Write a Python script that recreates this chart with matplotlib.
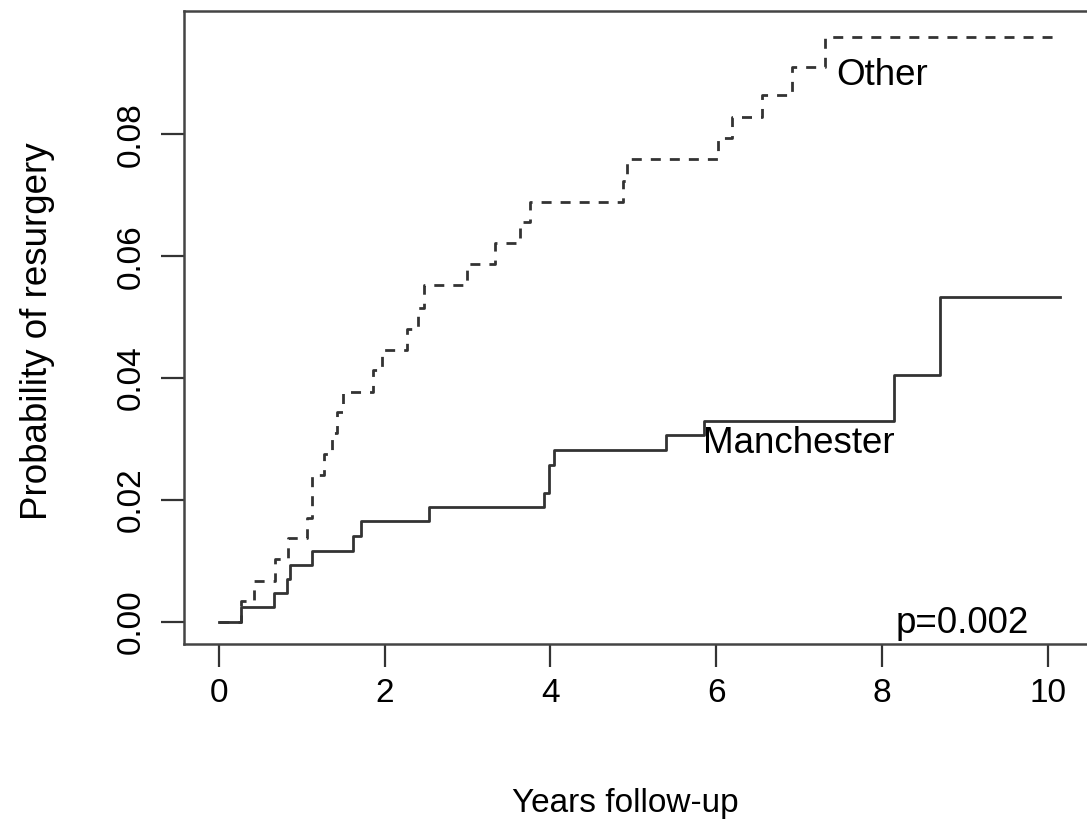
import matplotlib
matplotlib.use("Agg")
import matplotlib.pyplot as plt

# cumulative incidence of resurgery
man_t = [0, 0.27, 0.66, 0.82, 0.86, 1.12, 1.62, 1.72, 2.54, 3.92, 3.98, 4.04,
         5.40, 5.85, 8.15, 8.70, 10.15]
man_p = [0, 0.0024, 0.0047, 0.0070, 0.0094, 0.0117, 0.0141, 0.0165, 0.0188,
         0.0212, 0.0258, 0.0282, 0.0306, 0.0330, 0.0405, 0.0533, 0.0533]

oth_t = [0, 0.27, 0.43, 0.68, 0.83, 1.06, 1.12, 1.27, 1.36, 1.42, 1.50, 1.86,
         1.97, 2.27, 2.40, 2.47, 2.99, 3.33, 3.63, 3.75, 4.88, 4.93, 6.02, 6.19,
         6.55, 6.92, 7.31, 10.15]
oth_p = [0, 0.0035, 0.0068, 0.0104, 0.0138, 0.0170, 0.0241, 0.0275, 0.0310,
         0.0345, 0.0377, 0.0413, 0.0446, 0.0480, 0.0515, 0.0552, 0.0587, 0.0621,
         0.0656, 0.0689, 0.0724, 0.0759, 0.0793, 0.0828, 0.0865, 0.0910, 0.0960,
         0.0960]

x_ticks = [0, 2, 4, 6, 8, 10]
y_ticks = [0.00, 0.02, 0.04, 0.06, 0.08]
y_tick_labels = ["0.00", "0.02", "0.04", "0.06", "0.08"]

plt.rcParams['font.family'] = ['Liberation Sans', 'DejaVu Sans']
plt.rcParams['lines.scale_dashes'] = False

fig = plt.figure(figsize=(10.87, 8.21), dpi=100)
ax = fig.add_axes([184/1087, 177/821, (1124-184)/1087, (644-11)/821])

ax.step(man_t, man_p, where='post', color='#333333', lw=2.0)
ax.step(oth_t, oth_p, where='post', color='#333333', lw=2.0, linestyle=(0, (7.2, 6.5)))

ax.text(7.45, 0.0896, "Other", fontsize=26.5, va='center', ha='left')
ax.text(5.84, 0.0293, "Manchester", fontsize=26.5, va='center', ha='left')
ax.text(8.97, -0.0002, "p=0.002", fontsize=26.5, va='center', ha='center')

ax.set_xlim(-0.42, 10.92)
ax.set_ylim(-0.0036, 0.1002)
ax.set_xticks(x_ticks)
ax.set_yticks(y_ticks)
ax.set_yticklabels(y_tick_labels)
for lbl in ax.get_yticklabels():
    lbl.set_rotation(90)
    lbl.set_va('center')

ax.tick_params(length=16.5, width=1.6, labelsize=24, pad=8, color='#333333')
ax.tick_params(axis='y', pad=10)
for s in ax.spines.values():
    s.set_linewidth(1.8)
    s.set_color('#444444')

ax.set_xlabel("Years follow-up", fontsize=24, labelpad=57)
ax.xaxis.label.set_x(0.469)
ax.set_ylabel("Probability of resurgery", fontsize=26.5, labelpad=44)
ax.yaxis.label.set_y(0.4945)

fig.savefig("out.png", dpi=100)
